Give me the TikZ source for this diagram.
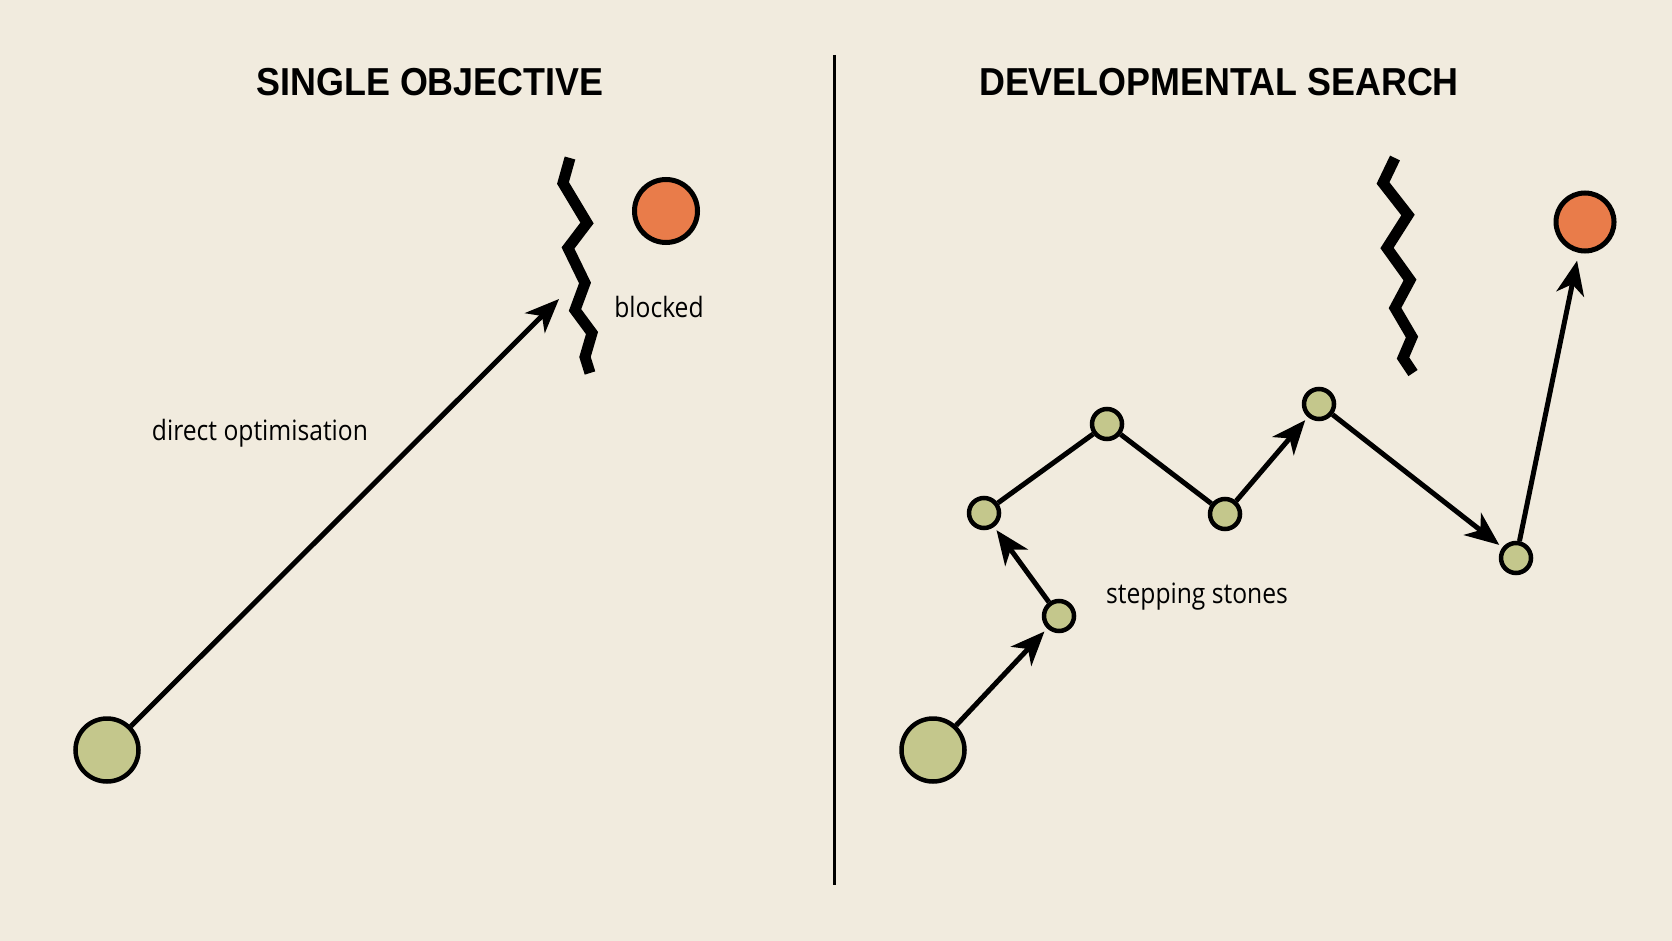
\documentclass[tikz,border=0pt]{standalone}
\usepackage{fontspec}
\usetikzlibrary{arrows.meta}
\newfontfamily\titlefont[FakeStretch=0.92]{Liberation Sans}
\newfontfamily\labelfont[FakeStretch=0.88]{Open Sans}
\definecolor{paper}{RGB}{241,235,222}
\definecolor{stonegreen}{RGB}{196,199,140}
\definecolor{goalorange}{RGB}{233,124,74}
\tikzset{
	stone/.style={circle, draw, line width=4.5pt, fill=stonegreen, inner sep=0pt, minimum size=30pt},
	origin/.style={stone, minimum size=63pt},
	goal/.style={circle, draw, line width=5pt, fill=goalorange, inner sep=0pt, minimum size=63pt},
	heading/.style={font=\titlefont\bfseries\fontsize{39}{44}\selectfont},
	note/.style={font=\labelfont\fontsize{28}{32}\selectfont},
	hop/.style={line width=5pt, -{Stealth[length=34pt,width=28pt,inset=10pt]}, shorten >=4pt},
	wall/.style={line width=11pt, line join=miter}
}
\begin{document}
\begin{tikzpicture}[x=1pt,y=-1pt]
			\fill[paper] (0,0) rectangle (1672,941);
			\useasboundingbox (0,0) rectangle (1672,941);
			% divider
			\coordinate (top) at (834,55);
			\coordinate (bottom) at (834,885);
			\draw[line width=3pt] (top) -- (bottom);
			% left panel
			\node (h1) [heading] at (430,82) {SINGLE OBJECTIVE};
			\node (s0) [origin] at (107,750) {};
			\node (g1) [goal] at (666,211) {};
			\coordinate (aim) at (559,299);
			\draw[hop, shorten >=0pt] (s0) -- (aim);
			\draw[wall] (570,158) -- (563,183) -- (587,223) -- (568,248) -- (585,283)
				-- (575,310) -- (592,333) -- (585,357) -- (590,373);
			\node (b) [note] at (659,307) {blocked};
			\node (d) [note] at (260,433) {direct optimisation};
			% right panel
			\node (h2) [heading] at (1219,82) {DEVELOPMENTAL SEARCH};
			\node (r0) [origin] at (933,750) {};
			\node (r1) [stone] at (1059,616) {};
			\node (r2) [stone] at (984,513) {};
			\node (r3) [stone] at (1107,424) {};
			\node (r4) [stone] at (1225,514) {};
			\node (r5) [stone] at (1319,404) {};
			\node (r6) [stone] at (1516,558) {};
			\node (g2) [goal, minimum size=58pt] at (1585,222) {};
			\draw[hop] (r0) -- (r1);
			\draw[hop] (r1) -- (r2);
			\draw[line width=5pt] (r2) -- (r3) -- (r4);
			\draw[hop] (r4) -- (r5);
			\draw[hop] (r5) -- (r6);
			\draw[hop, shorten >=8pt] (r6) -- (g2);
			\draw[wall] (1395,158) -- (1383,183) -- (1408,215) -- (1387,248) -- (1410,280)
				-- (1395,308) -- (1412,337) -- (1403,358) -- (1413,373);
			\node (st) [note] at (1197,597) {stepping stones};
		\end{tikzpicture}
\end{document}
